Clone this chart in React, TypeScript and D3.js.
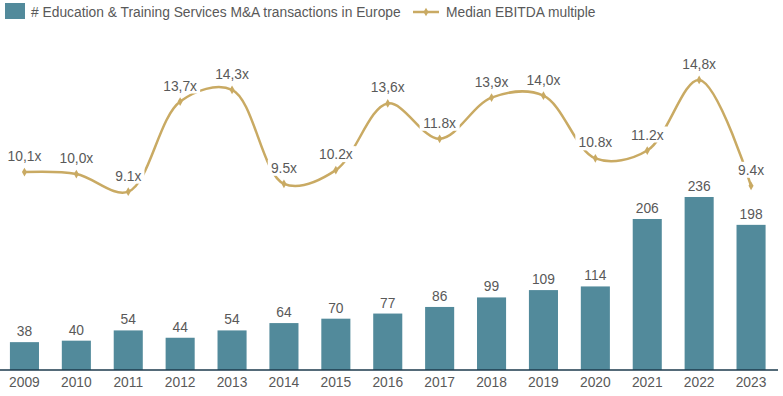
import * as d3 from "d3";

const years = ["2009", "2010", "2011", "2012", "2013", "2014", "2015", "2016", "2017", "2018", "2019", "2020", "2021", "2022", "2023"];
const deals = [38, 40, 54, 44, 54, 64, 70, 77, 86, 99, 109, 114, 206, 236, 198];
const multiples = [10.1, 10.0, 9.1, 13.7, 14.3, 9.5, 10.2, 13.6, 11.8, 13.9, 14.0, 10.8, 11.2, 14.8, 9.4];
const multipleLabels = ["10,1x", "10,0x", "9.1x", "13,7x", "14,3x", "9.5x", "10.2x", "13,6x", "11.8x", "13,9x", "14,0x", "10.8x", "11.2x", "14,8x", "9.4x"];

const barColor = "#528a9b";
const lineColor = "#c9aa63";
const textColor = "#595959";
const font = "'Liberation Sans', Arial, sans-serif";
const fs = 13.8;

export default function App() {
    const width = 783;
    const height = 396;
    const axisY = 370;
    const top = 30;

    const x = d3.scaleBand<string>().domain(years).range([-1.5, 777]).paddingInner(0.44).paddingOuter(0.22);
    const yBar = d3.scaleLinear().domain([0, 463.8]).range([axisY, top]);
    const yLine = d3.scaleLinear().domain([0, 17.35]).range([axisY, top]);

    const cx = (d: string) => (x(d) ?? 0) + x.bandwidth() / 2;

    const line = d3
        .line<number>()
        .x((_, i) => cx(years[i]))
        .y(d => yLine(d))
        .curve(d3.curveCatmullRom.alpha(0.5));

    const diamond = d3.symbol().type(d3.symbolDiamond).size(22)();

    return (
        <svg width={width} height={height} style={{ position: "absolute", left: 0, top: 0, fontFamily: font }}>
            {/* legend */}
            <rect x={5} y={3} width={20} height={16} fill={barColor} />
            <text x={31} y={16.5} fontSize={fs} fill={textColor}>
                # Education &amp; Training Services M&amp;A transactions in Europe
            </text>
            <line x1={413} x2={439} y1={12} y2={12} stroke={lineColor} strokeWidth={2.5} />
            <path d={diamond ?? ""} transform="translate(426,12)" fill={lineColor} />
            <text x={446} y={16.5} fontSize={fs} fill={textColor}>
                Median EBITDA multiple
            </text>

            {/* bars */}
            {deals.map((v, i) => (
                <g key={years[i]}>
                    <rect
                        x={x(years[i])}
                        y={yBar(v)}
                        width={x.bandwidth()}
                        height={axisY - yBar(v)}
                        fill={barColor}
                    />
                    <text x={cx(years[i])} y={yBar(v) - 6} textAnchor="middle" fontSize={fs} fill={textColor}>
                        {v}
                    </text>
                </g>
            ))}

            {/* axis */}
            <line x1={0} x2={778} y1={axisY} y2={axisY} stroke="#1d3a4c" strokeWidth={1.5} />
            {years.map(y => (
                <text key={y} x={cx(y)} y={387} textAnchor="middle" fontSize={fs} fill={textColor}>
                    {y}
                </text>
            ))}

            {/* line */}
            <path d={line(multiples) ?? ""} fill="none" stroke={lineColor} strokeWidth={2.5} />
            {multiples.map((v, i) => (
                <path key={i} d={diamond ?? ""} transform={`translate(${cx(years[i])},${yLine(v)})`} fill={lineColor} />
            ))}
            {multiples.map((v, i) => {
                const w = multipleLabels[i].length * 7.6 + 2;
                const ly = yLine(v) - 16;
                return (
                    <g key={"l" + i}>
                        <rect x={cx(years[i]) - w / 2} y={ly - 8} width={w} height={16} fill="#fff" />
                        <text x={cx(years[i])} y={ly + 5} textAnchor="middle" fontSize={fs} fill={textColor}>
                            {multipleLabels[i]}
                        </text>
                    </g>
                );
            })}
        </svg>
    );
}
